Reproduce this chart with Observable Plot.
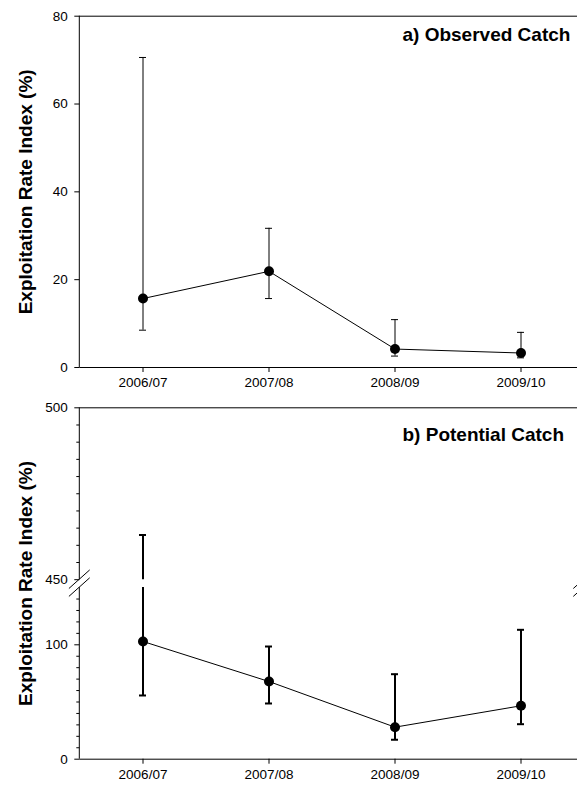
<!DOCTYPE html>
<html><head><meta charset="utf-8">
<script src="https://cdn.jsdelivr.net/npm/d3@7"></script>
<script src="https://cdn.jsdelivr.net/npm/@observablehq/plot@0.6"></script>
<style>
body{margin:0;background:#fff;}
#chart svg{display:block;}
</style></head><body><div id="chart"></div>
<script>
const seasons = ["2006/07", "2007/08", "2008/09", "2009/10"];
const observed = [15.7, 21.9, 4.2, 3.3];
const observedLow = [8.5, 15.7, 2.6, 2.2];
const observedHigh = [70.6, 31.7, 10.9, 8.0];
const potential = [102.9, 67.9, 28.0, 46.7];
const potentialLow = [55.7, 48.7, 17.0, 30.6];
const potentialHigh = [463, 98.5, 74.3, 113.1];
const topTicks = [0, 20, 40, 60, 80];
const bottomTicks = [0, 100, 450, 500];
const bottomMinor = [10, 20, 30, 40, 50, 60, 70, 80, 90, 110, 120, 130, 140, 455, 460, 465, 470, 475, 480, 485, 490, 495];
const breakLow = 150, breakHigh = 450;
const yLabel = "Exploitation Rate Index (%)";
const titleA = "a) Observed Catch";
const titleB = "b) Potential Catch";

const font = "'Liberation Sans', Arial, Helvetica, sans-serif";
const W = 577, LEFT = 79.3;
const xScale = {type: "band", domain: seasons, range: [LEFT, 583.7], paddingInner: 0.944, paddingOuter: 0.472};
const plotStyle = {fontFamily: font, fontSize: "13.5px", color: "black", background: "white"};

const rowsA = seasons.map((s, i) => ({season: s, v: observed[i], lo: observedLow[i], hi: observedHigh[i]}));
const rowsB = seasons.map((s, i) => ({season: s, v: potential[i], lo: potentialLow[i], hi: potentialHigh[i]}));
const segB = [];
rowsB.forEach(r => {
  segB.push({season: r.season, a: r.lo, b: Math.min(r.hi, breakLow)});
  if (r.hi > breakHigh) segB.push({season: r.season, a: breakHigh, b: r.hi});
});

function leftLineTop(index, scales, values, dims) {
  const g = d3.create("svg:g").attr("stroke", "black").attr("fill", "none");
  g.append("line").attr("x1", dims.marginLeft).attr("x2", dims.marginLeft)
    .attr("y1", scales.y(0)).attr("y2", scales.y(80));
  return g.node();
}
function leftLineBottom(index, scales, values, dims) {
  const g = d3.create("svg:g").attr("stroke", "black").attr("fill", "none").attr("stroke-width", 1);
  const x0 = dims.marginLeft;
  g.append("line").attr("x1", x0).attr("x2", x0).attr("y1", scales.y(0)).attr("y2", scales.y(breakLow));
  g.append("line").attr("x1", x0).attr("x2", x0).attr("y1", scales.y(breakHigh)).attr("y2", scales.y(500));
  const xs = [x0, xScale.range[1]];
  for (const cx of xs) {
    for (const v of [breakHigh, breakLow]) {
      const cy = scales.y(v);
      g.append("line").attr("x1", cx - 10.4).attr("y1", cy + 9.3).attr("x2", cx + 10.4).attr("y2", cy - 9.3);
    }
  }
  return g.node();
}

const chartTop = Plot.plot({
  width: W, height: 400,
  marginLeft: LEFT, marginRight: 0, marginTop: 15.7, marginBottom: 33,
  style: plotStyle,
  x: xScale,
  y: {type: "linear", domain: [0, 80]},
  marks: [
    Plot.ruleY([0, 80], {stroke: "black", strokeWidth: 1}),
    leftLineTop,
    Plot.axisY({ticks: topTicks, tickSize: 5, tickPadding: 7, fontSize: 13.5, label: null, stroke: "black"}),
    Plot.axisX({tickSize: 5, tickPadding: 5, fontSize: 13.5, label: null, stroke: "black"}),
    Plot.ruleX(rowsA, {x: "season", y1: "lo", y2: "hi", stroke: "black", strokeWidth: 1}),
    Plot.tickY(rowsA, {x: "season", y: "lo", stroke: "black", strokeWidth: 1}),
    Plot.tickY(rowsA, {x: "season", y: "hi", stroke: "black", strokeWidth: 1}),
    Plot.line(rowsA, {x: "season", y: "v", stroke: "black", strokeWidth: 1}),
    Plot.dot(rowsA, {x: "season", y: "v", r: 5, fill: "black", stroke: "none"}),
    Plot.text([titleA], {frameAnchor: "top-left", dx: 322.7, dy: 25, lineAnchor: "bottom", textAnchor: "start", fontSize: 19, fontWeight: "bold", fill: "black"}),
    Plot.text([yLabel], {frameAnchor: "left", rotate: -90, dx: -54, textAnchor: "middle", fontSize: 19, fontWeight: "bold", fill: "black"})
  ]
});

const chartBottom = Plot.plot({
  width: W, height: 385,
  marginLeft: LEFT, marginRight: 0, marginTop: 7.3, marginBottom: 26.3,
  style: plotStyle,
  x: xScale,
  y: {type: "linear", domain: [0, breakLow, breakHigh, 500], range: [358.7, 187.1, 179.2, 7.3]},
  marks: [
    Plot.ruleY([0, 500], {stroke: "black", strokeWidth: 1}),
    leftLineBottom,
    Plot.axisY({ticks: bottomTicks, tickSize: 5, tickPadding: 7, fontSize: 13.5, label: null, stroke: "black"}),
    Plot.axisY({ticks: bottomMinor, tickSize: 3, tickFormat: () => "", label: null, stroke: "black"}),
    Plot.axisX({tickSize: 5, tickPadding: 5, fontSize: 13.5, label: null, stroke: "black"}),
    Plot.ruleX(segB, {x: "season", y1: "a", y2: "b", stroke: "black", strokeWidth: 2}),
    Plot.tickY(rowsB, {x: "season", y: "lo", stroke: "black", strokeWidth: 2}),
    Plot.tickY(rowsB, {x: "season", y: "hi", stroke: "black", strokeWidth: 2}),
    Plot.line(rowsB, {x: "season", y: "v", stroke: "black", strokeWidth: 1}),
    Plot.dot(rowsB, {x: "season", y: "v", r: 5, fill: "black", stroke: "none"}),
    Plot.text([titleB], {frameAnchor: "top-left", dx: 322.7, dy: 33.4, lineAnchor: "bottom", textAnchor: "start", fontSize: 19, fontWeight: "bold", fill: "black"}),
    Plot.text([yLabel], {frameAnchor: "left", rotate: -90, dx: -54, textAnchor: "middle", fontSize: 19, fontWeight: "bold", fill: "black"})
  ]
});

document.getElementById("chart").append(chartTop, chartBottom);
</script>
</body></html>
